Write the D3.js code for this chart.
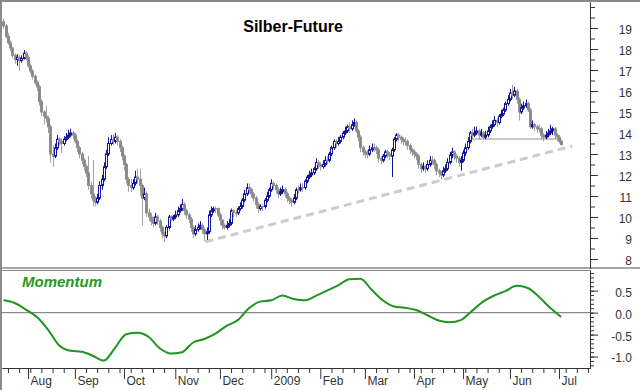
<!DOCTYPE html>
<html><head><meta charset="utf-8">
<script src="https://cdn.jsdelivr.net/npm/d3@7"></script>
<style>body{margin:0;background:#fff}svg{display:block}text{font-family:Arial,"Liberation Sans",sans-serif}</style>
</head><body><svg id="c" width="640" height="390"></svg>
<script>
// ---------------- data ----------------
const title = "Silber-Future";
const indicatorName = "Momentum";
const firstDay = [2008, 6, 17]; // first trading day shown (17 Jul 2008), one bar per weekday
const monthLabels = ["Aug","Sep","Oct","Nov","Dec","2009","Feb","Mar","Apr","May","Jun","Jul"];
const priceTicks = [8,9,10,11,12,13,14,15,16,17,18,19];
const momentumTicks = [-1.0,-0.5,0.0,0.5];

const open = [19.3,19.1,18.6,18.3,18.05,17.7,17.5,17.6,17.45,17.55,
17.8,17.6,17.2,16.95,16.7,16.4,16.2,15.5,15.0,14.8,
14.7,14.3,13.0,12.9,13.3,13.7,13.6,13.5,13.7,13.8,
13.9,14.0,13.9,13.6,13.3,13.0,12.7,12.4,12.1,11.5,
11.1,10.8,10.7,10.9,11.5,11.8,12.4,13.0,13.5,13.7,
13.6,13.8,13.6,13.3,12.9,12.5,11.8,11.5,11.4,11.6,
11.9,11.8,11.5,10.9,11.1,10.2,10.0,9.8,9.7,10.0,
9.8,9.5,9.2,9.1,9.5,10.0,9.9,10.0,10.1,10.3,
10.4,10.6,10.3,10.1,9.9,9.5,9.2,9.4,9.5,9.6,
9.4,9.2,9.3,10.1,10.3,10.4,10.4,10.1,9.85,9.6,
9.5,9.6,9.7,10.3,10.2,10.2,10.4,10.5,10.8,11.1,
11.4,11.3,11.1,10.9,10.6,10.4,10.5,10.5,10.8,11.0,
11.3,11.6,11.5,11.3,11.1,11.2,11.3,11.1,10.9,10.8,
10.7,10.9,11.3,11.3,11.4,11.4,11.7,11.9,12.0,12.1,
12.3,12.6,12.5,12.4,12.5,12.7,12.7,13.0,13.3,13.6,
13.5,13.6,13.8,14.0,14.1,14.3,14.2,14.4,14.5,14.1,
13.8,13.3,13.1,13.0,13.0,13.2,13.3,13.3,13.2,12.8,
12.7,12.9,13.1,13.0,12.9,13.2,13.7,13.9,13.8,13.7,
13.6,13.6,13.4,13.2,13.1,13.0,12.9,12.5,12.3,12.4,
12.3,12.5,12.7,12.7,12.5,12.2,12.1,12.0,12.2,12.3,
12.6,12.95,13.1,12.9,12.8,12.6,12.7,13.05,13.3,13.6,
14.0,13.9,14.0,14.1,13.9,14.0,13.8,13.9,14.1,14.3,
14.4,14.6,14.5,14.8,14.9,15.1,15.4,15.6,15.9,15.8,
16.0,15.6,15.0,15.2,15.3,15.4,15.1,14.3,14.4,14.3,
14.2,14.2,13.9,13.8,13.9,14.0,14.1,14.2,13.9,13.8,
13.6];
const high = [19.45,19.2,18.75,18.4,18.1,17.8,17.75,17.7,17.7,17.95,
17.9,17.7,17.3,17.05,16.8,16.5,16.3,15.6,15.1,15.3,
14.8,14.4,13.4,13.5,13.9,13.8,13.75,13.85,14.0,14.15,
14.2,14.1,14.0,13.7,13.4,13.1,12.8,12.5,12.9,11.7,
12.7,11.0,11.1,11.7,12.0,12.6,13.2,13.8,13.9,13.95,
14.0,13.9,13.7,13.4,13.0,12.6,11.9,11.8,11.8,12.2,
12.3,12.3,11.6,11.4,11.2,10.4,10.2,10.0,10.2,10.1,
9.9,9.6,9.3,9.6,10.1,10.1,10.1,10.3,10.5,10.6,
10.85,10.7,10.4,10.2,10.0,9.6,9.6,9.7,9.8,9.7,
9.5,9.5,10.3,10.5,10.5,10.5,10.45,10.2,9.9,9.7,
9.8,9.9,10.4,10.4,10.35,10.5,10.7,10.9,11.3,11.6,
11.6,11.4,11.2,11.0,10.7,10.6,10.6,10.9,11.2,11.4,
11.8,11.7,11.6,11.4,11.4,11.5,11.4,11.2,11.0,10.9,
11.1,11.4,11.5,11.6,11.6,11.8,12.0,12.2,12.3,12.4,
12.8,12.7,12.6,12.7,12.9,12.9,13.1,13.4,13.7,13.7,
13.8,13.9,14.1,14.3,14.4,14.5,14.6,14.7,14.6,14.2,
13.9,13.4,13.2,13.2,13.4,13.5,13.5,13.4,13.3,12.9,
13.0,13.2,13.2,13.1,13.3,13.8,14.0,14.0,13.9,13.8,
13.8,13.7,13.5,13.3,13.2,13.1,13.0,12.6,12.6,12.5,
12.7,12.9,12.9,12.8,12.6,12.3,12.2,12.4,12.5,12.8,
13.1,13.3,13.2,13.0,12.9,12.9,13.2,13.5,13.8,14.1,
14.2,14.3,14.3,14.2,14.2,14.1,14.1,14.3,14.4,14.6,
14.8,14.7,14.9,15.1,15.2,15.5,15.8,16.1,16.3,16.2,
16.1,15.7,15.4,15.5,15.6,15.5,15.2,14.6,14.5,14.4,
14.4,14.3,14.0,14.1,14.2,14.4,14.3,14.3,14.0,13.9,
13.7];
const low = [18.95,18.5,18.2,17.9,17.55,17.3,17.2,16.95,17.35,17.5,
17.45,17.1,16.8,16.55,16.3,16.0,15.3,14.8,14.4,14.5,
14.0,12.6,12.4,12.8,13.2,13.4,13.05,13.4,13.6,13.7,
13.8,13.7,13.5,13.1,12.8,12.5,12.2,11.9,11.3,10.9,
10.5,10.5,10.6,10.8,11.3,11.7,12.3,12.9,13.4,13.4,
13.5,13.4,13.1,12.7,12.2,11.6,11.2,11.2,11.3,11.5,
11.6,11.0,9.6,10.8,10.0,9.8,9.6,9.5,9.6,9.6,
9.3,9.0,8.8,9.0,9.4,9.8,9.8,9.9,10.0,10.2,
10.3,10.1,9.9,9.7,9.3,9.0,9.1,9.3,9.4,9.2,
8.85,8.9,9.2,10.0,10.2,10.2,10.0,9.6,9.4,9.4,
9.4,9.5,9.6,10.0,10.0,10.1,10.3,10.4,10.7,11.0,
11.1,10.9,10.7,10.4,10.2,10.3,10.3,10.4,10.7,10.9,
11.2,11.3,11.1,10.9,11.0,11.1,10.9,10.7,10.6,10.5,
10.6,10.8,11.1,11.2,11.2,11.3,11.6,11.8,11.9,12.0,
12.2,12.3,12.2,12.3,12.4,12.5,12.6,12.9,13.2,13.3,
13.4,13.5,13.7,13.9,14.0,14.0,14.1,14.3,14.0,13.6,
13.1,12.9,12.8,12.8,12.9,13.1,13.1,13.0,12.6,12.5,
12.6,12.8,12.8,12.7,11.9,13.1,13.6,13.6,13.5,13.4,
13.4,13.2,13.0,12.9,12.8,12.7,12.3,12.1,12.2,12.1,
12.2,12.4,12.5,12.3,12.0,11.9,11.8,11.9,12.1,12.2,
12.5,12.8,12.7,12.6,12.4,12.2,12.6,12.9,13.2,13.5,
13.7,13.8,13.9,13.7,13.8,13.7,13.7,13.8,14.0,14.2,
14.3,14.3,14.4,14.7,14.8,15.0,15.3,15.5,15.6,15.7,
15.4,14.6,14.9,15.1,15.2,15.0,14.2,14.2,14.1,14.0,
14.0,13.7,13.6,13.7,13.8,13.9,13.9,13.7,13.6,13.5,
13.4];
const close = [19.1,18.6,18.3,18.05,17.7,17.5,17.6,17.45,17.55,17.8,
17.6,17.2,16.95,16.7,16.4,16.2,15.5,15.0,14.8,14.7,
14.3,13.0,12.9,13.3,13.7,13.6,13.5,13.7,13.8,13.9,
14.0,13.9,13.6,13.3,13.0,12.7,12.4,12.1,11.5,11.1,
10.8,10.7,10.9,11.5,11.8,12.4,13.0,13.5,13.7,13.6,
13.8,13.6,13.3,12.9,12.5,11.8,11.5,11.4,11.6,11.9,
11.8,11.5,10.9,11.1,10.2,10.0,9.8,9.7,10.0,9.8,
9.5,9.2,9.1,9.5,10.0,9.9,10.0,10.1,10.3,10.4,
10.6,10.3,10.1,9.9,9.5,9.2,9.4,9.5,9.6,9.4,
9.2,9.3,10.1,10.3,10.4,10.4,10.1,9.85,9.6,9.5,
9.6,9.7,10.3,10.2,10.2,10.4,10.5,10.8,11.1,11.4,
11.3,11.1,10.9,10.6,10.4,10.5,10.5,10.8,11.0,11.3,
11.6,11.5,11.3,11.1,11.2,11.3,11.1,10.9,10.8,10.7,
10.9,11.3,11.3,11.4,11.4,11.7,11.9,12.0,12.1,12.3,
12.6,12.5,12.4,12.5,12.7,12.7,13.0,13.3,13.6,13.5,
13.6,13.8,14.0,14.1,14.3,14.2,14.4,14.5,14.1,13.8,
13.3,13.1,13.0,13.0,13.2,13.3,13.3,13.2,12.8,12.7,
12.9,13.1,13.0,12.9,13.2,13.7,13.9,13.8,13.7,13.6,
13.6,13.4,13.2,13.1,13.0,12.9,12.5,12.3,12.4,12.3,
12.5,12.7,12.7,12.5,12.2,12.1,12.0,12.2,12.3,12.6,
12.95,13.1,12.9,12.8,12.6,12.7,13.05,13.3,13.6,14.0,
13.9,14.0,14.1,13.9,14.0,13.8,13.9,14.1,14.3,14.4,
14.6,14.5,14.8,14.9,15.1,15.4,15.6,15.9,15.8,16.0,
15.6,15.0,15.2,15.3,15.4,15.1,14.3,14.4,14.3,14.2,
14.2,13.9,13.8,13.9,14.0,14.1,14.2,13.9,13.8,13.6,
13.45];

// momentum, sampled once a week (every 5th bar)
const momentumEvery = 5;
const momentum = [0.28,0.22,0.07,-0.10,-0.39,-0.75,-0.87,-0.89,-0.98,-1.09,
-0.80,-0.49,-0.46,-0.55,-0.81,-0.93,-0.90,-0.68,-0.60,-0.48,
-0.30,-0.17,0.10,0.25,0.28,0.39,0.31,0.28,0.38,0.50,
0.62,0.76,0.77,0.52,0.28,0.14,0.11,0.06,-0.06,-0.18,
-0.22,-0.17,0.04,0.25,0.39,0.49,0.61,0.56,0.36,0.11,
-0.10];

// trend lines (bar index, price)
const supportLine = [[90.5, 8.82], [255, 13.38]];
const necklineLine = [[209, 13.72], [249, 13.72]];

// ---------------- chart ----------------
const svg = d3.select("#c");
const W = 640;
const axisX = 590;

const dates = [];
{ const d = new Date(firstDay[0], firstDay[1], firstDay[2]);
  while (dates.length < 270) { if (d.getDay() % 6 !== 0) dates.push(new Date(d)); d.setDate(d.getDate() + 1); } }

const x = d3.scaleLinear().domain([-0.67, 262.9]).range([2, axisX]);
const yP = d3.scaleLinear().domain([7.57, 20.24]).range([268, 2]);
const yM = d3.scaleLinear().domain([-1.26, 0.97]).range([368, 270]);

// frames
svg.append("rect").attr("x",0).attr("y",0).attr("width",W).attr("height",390).attr("fill","#fff");
svg.append("line").attr("x1",0).attr("x2",W).attr("y1",1).attr("y2",1).attr("stroke","#8a8a8a").attr("stroke-width",2);
svg.append("line").attr("x1",1).attr("x2",1).attr("y1",0).attr("y2",390).attr("stroke","#8a8a8a").attr("stroke-width",2);
svg.append("line").attr("x1",0).attr("x2",W).attr("y1",268).attr("y2",268).attr("stroke","#8a8a8a").attr("stroke-width",1.5);
svg.append("line").attr("x1",0).attr("x2",axisX).attr("y1",270.5).attr("y2",270.5).attr("stroke","#8a8a8a").attr("stroke-width",1);

// title
svg.append("text").attr("x",293).attr("y",32).attr("text-anchor","middle")
  .attr("font-size",16).attr("font-weight","bold").attr("fill","#000").text(title);

// price axis
const gP = svg.append("g").attr("transform",`translate(${axisX},0)`);
const minorP = d3.range(8, 20.01, 0.5);
gP.call(d3.axisRight(yP).tickValues(minorP).tickSize(5).tickFormat("").tickSizeOuter(0));
const gP2 = svg.append("g").attr("transform",`translate(${axisX},0)`);
gP2.call(d3.axisRight(yP).tickValues(priceTicks).tickSize(8).tickSizeOuter(0).tickFormat(d3.format("d")));
[gP, gP2].forEach(g => { g.select(".domain").attr("stroke","#333"); g.selectAll(".tick line").attr("stroke","#333"); });
gP2.selectAll("text").attr("x",42).attr("text-anchor","end").attr("dy","0.45em").attr("font-size",12).attr("fill","#333");

// trend lines
const lineGen = d3.line().x(d => x(d[0])).y(d => yP(d[1]));
svg.append("path").attr("d", lineGen(necklineLine)).attr("stroke","#c8c8c8").attr("stroke-width",2).attr("fill","none");
svg.append("path").attr("d", lineGen(supportLine)).attr("stroke","#cccccc").attr("stroke-width",3).attr("stroke-dasharray","8,5").attr("fill","none");

// candles
const bars = close.map((c,i) => ({i, o:open[i], h:high[i], l:low[i], c}));
const bw = 2;
const cg = svg.append("g");
cg.selectAll("line.w").data(bars).join("line")
  .attr("x1", d => Math.round(x(d.i)) + 0.5).attr("x2", d => Math.round(x(d.i)) + 0.5)
  .attr("y1", d => yP(d.h)).attr("y2", d => yP(d.l))
  .attr("stroke", d => d.c > d.o ? "#14149a" : "#a0a0a0").attr("stroke-width",1);
cg.selectAll("rect").data(bars).join("rect")
  .attr("x", d => Math.round(x(d.i)) - 0.5).attr("width", bw)
  .attr("y", d => yP(Math.max(d.o,d.c))).attr("height", d => Math.max(0.5, Math.abs(yP(d.o)-yP(d.c))))
  .attr("fill", d => d.c > d.o ? "#ffffff" : "#858585")
  .attr("stroke", d => d.c > d.o ? "#14149a" : "#909090").attr("stroke-width",1);

// momentum panel
svg.append("line").attr("x1",2).attr("x2",axisX).attr("y1",yM(0)).attr("y2",yM(0)).attr("stroke","#8a8a8a").attr("stroke-width",1.2);
svg.append("text").attr("x",22).attr("y",287).attr("font-size",15).attr("font-weight","bold").attr("font-style","italic")
  .attr("fill","#1f9a1f").text(indicatorName);
const mLine = d3.line().x((d,k) => x(k*momentumEvery)).y(d => yM(d)).curve(d3.curveMonotoneX);
svg.append("path").attr("d", mLine(momentum)).attr("stroke","#1f951f").attr("stroke-width",2).attr("fill","none");

const gM = svg.append("g").attr("transform",`translate(${axisX},0)`);
gM.call(d3.axisRight(yM).tickValues(d3.range(-1.2, 0.95, 0.1)).tickSize(4).tickFormat("").tickSizeOuter(0));
const gM2 = svg.append("g").attr("transform",`translate(${axisX},0)`);
gM2.call(d3.axisRight(yM).tickValues(momentumTicks).tickSize(8).tickSizeOuter(0).tickFormat(d3.format(".1f")));
[gM, gM2].forEach(g => { g.select(".domain").attr("stroke","#333"); g.selectAll(".tick line").attr("stroke","#333"); });
gM2.selectAll("text").attr("x",42).attr("text-anchor","end").attr("dy","0.45em").attr("font-size",12).attr("fill","#333")
  .text(d => d3.format(".1f")(d).replace("−","-"));

// time axis
const monthIdx = [];
for (let i = 1; i < dates.length; i++) if (dates[i].getMonth() !== dates[i-1].getMonth() && x(i) < axisX) monthIdx.push(i);
const weekIdx = [];
for (let i = 0; i < dates.length; i++) if (dates[i].getDay() === 1 && x(i) < axisX && !monthIdx.includes(i)) weekIdx.push(i);
const gX = svg.append("g").attr("transform","translate(0,368)");
gX.call(d3.axisBottom(x).tickValues(weekIdx).tickSize(5).tickFormat("").tickSizeOuter(0));
const gX2 = svg.append("g").attr("transform","translate(0,368)");
gX2.call(d3.axisBottom(x).tickValues(monthIdx).tickSize(11).tickSizeOuter(0).tickFormat((d,k) => monthLabels[k]));
[gX, gX2].forEach(g => { g.select(".domain").attr("stroke","#333"); g.selectAll(".tick line").attr("stroke","#333"); });
gX2.selectAll("text").attr("x",2).attr("y",12).attr("dy","0").attr("text-anchor","start").attr("font-size",12).attr("fill","#333")
  .attr("transform","translate(0,5)");
</script></body></html>
